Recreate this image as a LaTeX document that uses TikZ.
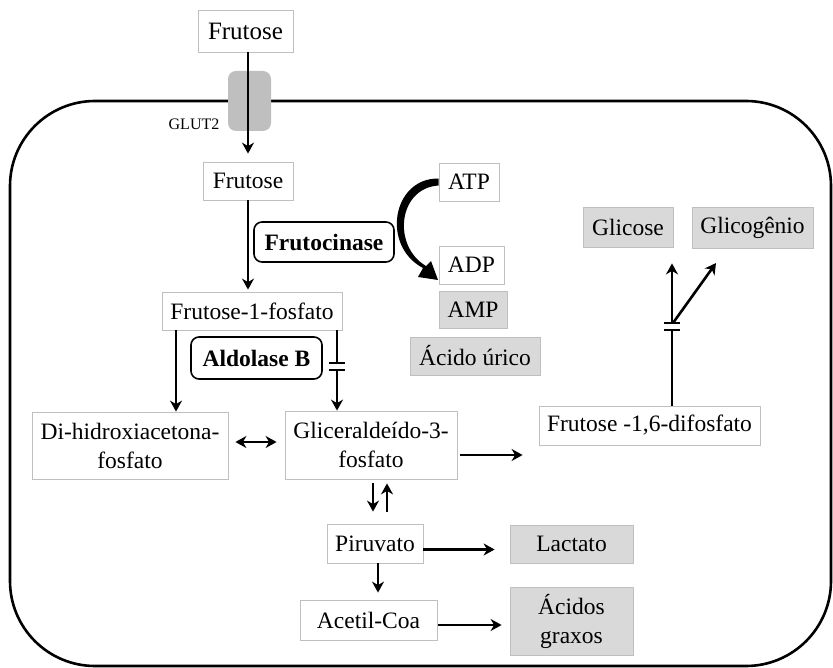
\documentclass[tikz,border=0pt]{standalone}
\usepackage{fontspec}
\setmainfont{Liberation Serif}
\usepackage{tikz}
\usetikzlibrary{shapes,arrows.meta,positioning}

\tikzset{
  box/.style={draw=black!25, line width=0.8pt, fill=white, inner sep=0pt,
    align=center, font=\fontsize{23.5}{29}\selectfont},
  greybox/.style={box, fill=black!15},
  enzyme/.style={draw, line width=1.6pt, rounded corners=8pt, inner sep=0pt,
    font=\fontsize{23.5}{28}\selectfont\bfseries},
  arr/.style={line width=2.6pt, -{Stealth[length=11pt,width=12pt,inset=3.5pt]}},
  darr/.style={line width=2.6pt, {Stealth[length=11pt,width=12pt,inset=3.5pt]}-{Stealth[length=11pt,width=12pt,inset=3.5pt]}},
  ln/.style={line width=2.6pt},
  brk/.style={line width=2.8pt}
}

\begin{document}
\begin{tikzpicture}[x=1pt,y=-1pt]
\useasboundingbox (0,0) rectangle (833,668);
% cell
\draw[line width=2.6pt, rounded corners=85pt] (10,101) rectangle (831,666);
% transporter
\fill[black!25, rounded corners=8pt] (228,71) rectangle (271,131);
\node[font=\fontsize{16}{18}\selectfont] (glutlbl) at (194,124) {GLUT2};

% metabolites
\node[box, minimum width=95pt, minimum height=42pt, font=\fontsize{25}{28}\selectfont] (fru0) at (245.5,31) {Frutose};
\node[box, minimum width=90pt, minimum height=38pt] (fru1) at (248,181) {Frutose};
\node[box, minimum width=180pt, minimum height=38pt] (f1p) at (252,311) {Frutose-1-fosfato};
\node[box, minimum width=196pt, minimum height=67pt] (dhap) at (130,445.5) {Di-hidroxiacetona-\\fosfato};
\node[box, minimum width=172pt, minimum height=68pt] (g3p) at (371,445) {Gliceraldeído-3-\\fosfato};
\node[box, minimum width=221pt, minimum height=39pt] (f16) at (649.5,425.5) {Frutose -1,6-difosfato};
\node[box, minimum width=96pt, minimum height=39pt] (pir) at (375,543.5) {Piruvato};
\node[box, minimum width=137pt, minimum height=40pt] (acet) at (368.5,620) {Acetil-Coa};
\node[box, minimum width=60pt, minimum height=38pt] (atp) at (469,182) {ATP};
\node[box, minimum width=65pt, minimum height=38pt] (adp) at (471.5,265) {ADP};

% end products
\node[greybox, minimum width=68pt, minimum height=37pt] (amp) at (473,309.5) {AMP};
\node[greybox, minimum width=130pt, minimum height=38pt] (acur) at (475,356) {Ácido úrico};
\node[greybox, minimum width=90pt, minimum height=40pt] (glic) at (628,227) {Glicose};
\node[greybox, minimum width=121pt, minimum height=41pt] (glig) at (752.5,227.5) {Glicogênio};
\node[greybox, minimum width=123pt, minimum height=38pt] (lact) at (571.5,544) {Lactato};
\node[greybox, minimum width=123pt, minimum height=68pt] (acgr) at (571.5,621) {Ácidos\\graxos};

% enzymes
\node[enzyme, minimum width=140pt, minimum height=40pt] (fruc) at (324,242) {Frutocinase};
\node[enzyme, minimum width=131pt, minimum height=42pt] (aldo) at (256.5,358) {Aldolase B};

% uptake and phosphorylation
\draw[arr, shorten >=8pt] (fru1.north |- fru0.south) -- (fru1.north);
\draw[arr, shorten >=2pt] (fru1.south) -- (fru1.south |- f1p.north);
% tapered ATP -> ADP arrow
\fill ([yshift=3.5pt]atp.west) .. controls (392,178) and (381,246) .. (423,268)
  -- (418,277) -- (438,280) -- (431,261) -- (426,266)
  .. controls (392,246) and (398,188) .. ([yshift=-3.5pt]atp.west) -- cycle;

% aldolase split
\coordinate (dl) at (176,0);
\coordinate (bk1) at (337,363);
\coordinate (bk2) at (337,370);
\draw[arr] (dl |- f1p.south) -- (dl |- dhap.north);
\draw[ln] (bk1 |- f1p.south) -- (bk1);
\draw[brk] ([xshift=-8pt]bk1) -- ([xshift=8pt]bk1);
\draw[brk] ([xshift=-8pt]bk2) -- ([xshift=8pt]bk2);
\draw[arr] (bk2) -- (bk2 |- g3p.north);
\draw[darr, shorten <=7pt, shorten >=8pt] (dhap.east |- 0,442) -- (g3p.west |- 0,442);

% gluconeogenesis
\coordinate (bk3) at (672,330);
\coordinate (bk4) at (672,323);
\draw[arr, shorten <=3pt, shorten >=16pt] ([yshift=-10pt]g3p.east) -- ([yshift=-10pt]g3p.east -| f16.west);
\draw[ln] (bk3 |- f16.north) -- (bk3);
\draw[brk] ([xshift=-8pt]bk3) -- ([xshift=8pt]bk3);
\draw[brk] ([xshift=-8pt]bk4) -- ([xshift=8pt]bk4);
\draw[arr, shorten >=16pt] (bk4) -- (bk4 |- glic.south);
\draw[arr, shorten >=18pt] ([xshift=1pt]bk4) -- ([xshift=-26pt]glig.south);

% glycolysis
\draw[arr, shorten <=4pt, shorten >=12pt] ([xshift=-2pt]pir.north |- g3p.south) -- ([xshift=-2pt]pir.north);
\draw[arr, shorten <=12pt, shorten >=4pt] ([xshift=12pt]pir.north) -- ([xshift=12pt]pir.north |- g3p.south);
\draw[arr, shorten >=15pt] ([yshift=-6pt]pir.east) -- ([yshift=-6pt]pir.east -| lact.west);
\draw[arr, shorten >=7pt] ([xshift=3pt]pir.south) -- ([xshift=3pt]pir.south |- acet.north);
\draw[arr, shorten <=1pt, shorten >=8pt] ([yshift=-5pt]acet.east) -- ([yshift=-5pt]acet.east -| acgr.west);
\end{tikzpicture}
\end{document}
